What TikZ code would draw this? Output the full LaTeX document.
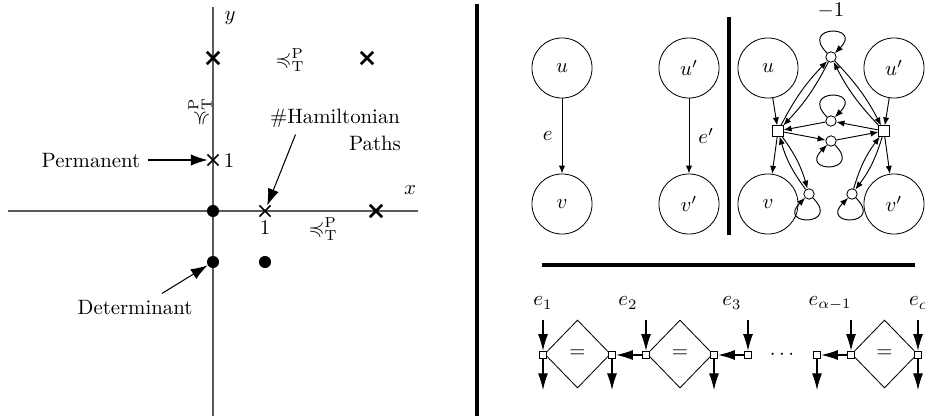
\documentclass[tikz,border=0pt]{standalone}
\usepackage{amssymb}
\usetikzlibrary{arrows.meta,shapes.misc,shapes.geometric}
\begin{document}
\begin{tikzpicture}[x=0.481pt,y=-0.481pt,
  axis/.style={draw=black!65, line width=0.6pt},
  boldx/.style={cross out, draw, line width=1.3pt, minimum size=4.6pt, inner sep=0pt},
  thinx/.style={cross out, draw, line width=0.7pt, minimum size=4.6pt, inner sep=0pt},
  dot/.style={circle, fill, minimum size=5.8pt, inner sep=0pt},
  bigarrow/.style={-{Latex[length=8pt,width=5.5pt]}, line width=0.5pt},
  big/.style={circle, draw, minimum size=28.9pt, inner sep=0pt},
  small/.style={circle, draw, fill=white, minimum size=5pt, inner sep=0pt},
  sq/.style={rectangle, draw, fill=white, minimum size=5pt, inner sep=0pt},
  ga/.style={-{Latex[length=3.8pt,width=3pt]}, line width=0.45pt},
  sep/.style={line width=1.5pt},
  csq/.style={rectangle, draw, fill=white, minimum size=3.7pt, inner sep=0pt},
  dia/.style={diamond, draw, minimum width=31.7pt, minimum height=32.7pt, inner sep=0pt},
  ca/.style={-{Latex[length=8pt,width=4.8pt]}, line width=0.5pt},
]
\useasboundingbox (0,0) rectangle (925,416);

% ---------- left: plane ----------
\coordinate (yb) at (213,416); \coordinate (yt) at (213,7);
\coordinate (xl) at (8,211);  \coordinate (xr) at (418,211);
\draw[axis] (yb) -- (yt);
\draw[axis] (xl) -- (xr);

\node[boldx] (c1) at (213,58) {};
\node[boldx] (c2) at (367,58) {};
\node[boldx] (c3) at (376,211) {};
\node[thinx] (px) at (213,160) {};
\node[thinx] (hx) at (265,211) {};
\node[dot] (d0) at (213,211) {};
\node[dot] (d1) at (213,262) {};
\node[dot] (d2) at (265,262) {};

\node (ylab) at (230,18) {$y$};
\node (xlab) at (410,190) {$x$};
\node (pr1) at (290,60) {$\preccurlyeq^{\mathrm{P}}_{\mathrm{T}}$};
\node[rotate=90] (pr2) at (200,112) {$\preccurlyeq^{\mathrm{P}}_{\mathrm{T}}$};
\node (pr3) at (323,229) {$\preccurlyeq^{\mathrm{P}}_{\mathrm{T}}$};
\node (one1) at (229,161) {$1$};
\node (one2) at (265,228) {$1$};
\node (ham1) at (335,118) {\#Hamiltonian};
\node (ham2) at (375,143) {Paths};
\node (perm) at (91,161) {Permanent};
\node (det) at (135,308) {Determinant};

\draw[bigarrow] (perm.east |- px) -- (px);
\draw[bigarrow] ([xshift=-19pt]ham1.south) -- (hx);
\draw[bigarrow] ([xshift=13pt]det.north) -- (d1);

% ---------- main separator ----------
\coordinate (s1a) at (477,4); \coordinate (s1b) at (477,416);
\draw[sep] (s1a) -- (s1b);

% ---------- right top: two edges ----------
\node[big] (au) at (562,68) {$u$};
\node[big] (av) at (562,204) {$v$};
\node[big] (bu) at (689,68) {$u'$};
\node[big] (bv) at (689,204) {$v'$};
\draw[ga] (au) -- node[left, xshift=-1pt] {$e$} (av);
\draw[ga] (bu) -- node[right, xshift=1pt] {$e'$} (bv);

\coordinate (s2a) at (729,17); \coordinate (s2b) at (729,235);
\draw[sep] (s2a) -- (s2b);

% ---------- gadget ----------
\node[big] (gu)  at (768,68) {$u$};
\node[big] (gup) at (894,68) {$u'$};
\node[big] (gv)  at (768,204) {$v$};
\node[big] (gvp) at (894,204) {$v'$};
\node[sq] (Ls) at (778,131) {};
\node[sq] (Rs) at (884,131) {};
\node[small] (T)  at (831,57) {};
\node[small] (M1) at (831,121) {};
\node[small] (M2) at (831,141) {};
\node[small] (BL) at (809,194) {};
\node[small] (BR) at (852,194) {};
\node[inner sep=0pt] (mlab) at (831,11) {$-1$};

\draw[ga] (gu) -- (Ls);
\draw[ga] (Ls) -- (gv);
\draw[ga] (gup) -- (Rs);
\draw[ga] (Rs) -- (gvp);
\draw[ga] (Ls) to[bend left=8] (T);
\draw[ga] (T) to[bend left=8] (Ls);
\draw[ga] (Rs) to[bend left=8] (T);
\draw[ga] (T) to[bend left=8] (Rs);
\draw[ga] (Rs) -- (M1);
\draw[ga] (M1) -- (Ls);
\draw[ga] (Ls) -- (M2);
\draw[ga] (M2) -- (Rs);
\draw[ga] (Ls) to[bend left=10] (BL);
\draw[ga] (BL) to[bend left=10] (Ls);
\draw[ga] (Rs) to[bend left=10] (BR);
\draw[ga] (BR) to[bend left=10] (Rs);

\draw[ga] (T) .. controls +(135:22pt) and +(45:22pt) .. (T);
\draw[ga] (M1) .. controls +(135:22pt) and +(45:22pt) .. (M1);
\draw[ga] (M2) .. controls +(-45:22pt) and +(-135:22pt) .. (M2);
\draw[ga] (BL) .. controls +(-45:22pt) and +(-135:22pt) .. (BL);
\draw[ga] (BR) .. controls +(-45:22pt) and +(-135:22pt) .. (BR);

% ---------- horizontal separator ----------
\coordinate (s3a) at (542,265); \coordinate (s3b) at (915,265);
\draw[sep] (s3a) -- (s3b);

% ---------- chain ----------
\node[dia] (D1) at (577.5,354) {$=$};
\node[dia] (D2) at (680,354) {$=$};
\node[dia] (D3) at (884.5,354) {$=$};
\node[csq] (S1) at (543,355) {};
\node[csq] (S2) at (612,355) {};
\node[csq] (S3) at (646,355) {};
\node[csq] (S4) at (714,355) {};
\node[csq] (S5) at (748,355) {};
\node[csq] (S6) at (817,355) {};
\node[csq] (S7) at (851,355) {};
\node[csq] (S8) at (918,355) {};
\node (dots) at (782,355) {$\cdots$};

\node (e1) at (543,303) {$e_1$};
\node (e2) at (628,303) {$e_2$};
\node (e3) at (732,303) {$e_3$};
\node (e4) at (830,303) {$e_{\alpha-1}$};
\node (e5) at (920,303) {$e_{\alpha}$};

\coordinate (t1) at (543,320); \coordinate (t3) at (646,320);
\coordinate (t5) at (748,320); \coordinate (t7) at (851,320);
\coordinate (t8) at (918,320);
\coordinate (b1) at (543,390); \coordinate (b2) at (612,390);
\coordinate (b4) at (714,390); \coordinate (b6) at (817,390);
\coordinate (b8) at (918,390);

\draw[ca] (t1) -- (S1);
\draw[ca] (t3) -- (S3);
\draw[ca] (t5) -- (S5);
\draw[ca] (t7) -- (S7);
\draw[ca] (t8) -- (S8);
\draw[ca] (S1) -- (b1);
\draw[ca] (S2) -- (b2);
\draw[ca] (S4) -- (b4);
\draw[ca] (S6) -- (b6);
\draw[ca] (S8) -- (b8);
\draw[ca] (S3) -- (S2);
\draw[ca] (S5) -- (S4);
\draw[ca] (S7) -- (S6);
\end{tikzpicture}
\end{document}
